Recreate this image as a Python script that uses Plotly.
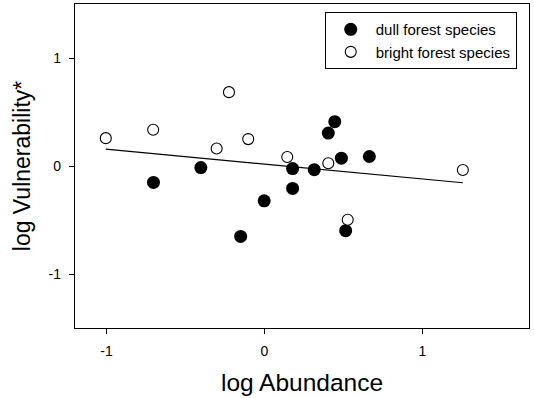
import plotly.graph_objects as go

# Data
dull_x = [-0.703, -0.403, -0.151, -0.002, 0.178, 0.178, 0.315, 0.404, 0.445, 0.487, 0.664, 0.514]
dull_y = [-0.152, -0.015, -0.652, -0.322, -0.024, -0.208, -0.034, 0.305, 0.410, 0.072, 0.088, -0.599]

bright_x = [-1.005, -0.705, -0.225, -0.303, -0.103, 0.144, 0.404, 0.527, 1.256]
bright_y = [0.258, 0.335, 0.684, 0.162, 0.249, 0.084, 0.025, -0.497, -0.037]

fit_x = [-1.005, 1.256]
fit_y = [0.156, -0.155]

x_ticks = [-1, 0, 1]
x_tick_labels = ["-1", "0", "1"]
y_ticks = [-1, 0, 1]
y_tick_labels = ["-1", "0", "1"]

FONT = "Liberation Sans, Arial, sans-serif"

fig = go.Figure()
fig.add_trace(go.Scatter(x=fit_x, y=fit_y, mode="lines",
                         line=dict(color="black", width=1.2),
                         showlegend=False, hoverinfo="skip"))
fig.add_trace(go.Scatter(x=dull_x, y=dull_y, mode="markers", name="dull forest species",
                         marker=dict(symbol="circle", size=13, color="black",
                                     line=dict(color="black", width=0))))
fig.add_trace(go.Scatter(x=bright_x, y=bright_y, mode="markers", name="bright forest species",
                         marker=dict(symbol="circle", size=11, color="white",
                                     line=dict(color="black", width=1.1))))

axis_common = dict(showline=True, linecolor="black", linewidth=1.3, mirror=True,
                   ticks="outside", ticklen=5, tickwidth=1, tickcolor="black",
                   showgrid=False, zeroline=False,
                   tickfont=dict(family=FONT, size=14, color="black"))

fig.update_layout(
    width=534, height=398,
    margin=dict(l=75, r=5, t=4, b=70),
    paper_bgcolor="white", plot_bgcolor="white",
    font=dict(family=FONT, color="black"),
    xaxis=dict(range=[-1.2, 1.675], tickvals=x_ticks, ticktext=x_tick_labels,
               ticklabelstandoff=5,
               title=dict(text="log Abundance", font=dict(family=FONT, size=24.5), standoff=15),
               **axis_common),
    yaxis=dict(range=[-1.5, 1.5], tickvals=y_ticks, ticktext=y_tick_labels,
               ticklabelstandoff=5,
               title=dict(text="log Vulnerability*", font=dict(family=FONT, size=23), standoff=11),
               **axis_common),
    legend=dict(x=0.973, y=0.975, xanchor="right", yanchor="top",
                bordercolor="black", borderwidth=1, bgcolor="white",
                font=dict(family=FONT, size=15, color="black"),
                tracegroupgap=0, itemwidth=40),
)

fig.write_html("out.html", config={"displayModeBar": False},
               post_script="document.body.style.margin='0';")
